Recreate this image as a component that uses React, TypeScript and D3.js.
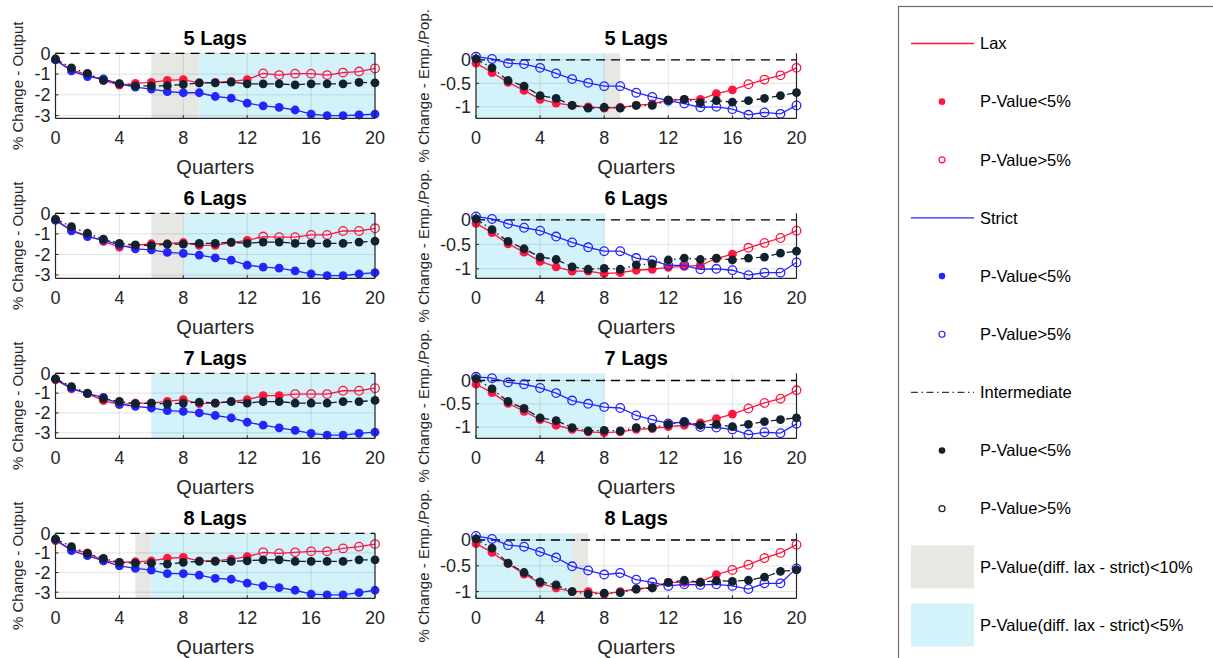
import React from "react";
import * as d3 from "d3";

// ---------- DATA ----------
const quarters = d3.range(0, 21);
const xTicks = [0, 4, 8, 12, 16, 20];
const outputTicks = [0, -1, -2, -3];
const empTicks = [0, -0.5, -1];
const lagTitles = ["5 Lags", "6 Lags", "7 Lags", "8 Lags"];

// Output (left column)
const laxOut5 = [-0.32, -0.8, -1.03, -1.3, -1.53, -1.45, -1.4, -1.3, -1.27, -1.42, -1.4, -1.35, -1.27, -0.97, -1.05, -0.98, -0.98, -1.05, -0.93, -0.88, -0.73];
const strictOut5 = [-0.32, -0.85, -1.12, -1.23, -1.47, -1.63, -1.72, -1.85, -1.9, -1.9, -2.08, -2.16, -2.4, -2.53, -2.6, -2.73, -2.93, -3.0, -3.0, -2.97, -2.93];
const interOut5 = [-0.27, -0.7, -0.97, -1.3, -1.46, -1.57, -1.57, -1.56, -1.5, -1.42, -1.42, -1.39, -1.47, -1.47, -1.47, -1.52, -1.47, -1.47, -1.47, -1.4, -1.42];

const laxOut6 = [-0.33, -0.83, -1.08, -1.37, -1.64, -1.56, -1.48, -1.48, -1.42, -1.56, -1.56, -1.43, -1.32, -1.13, -1.16, -1.16, -1.05, -1.05, -0.86, -0.86, -0.73];
const strictOut6 = [-0.33, -0.85, -1.13, -1.3, -1.54, -1.73, -1.78, -1.9, -1.95, -2.03, -2.17, -2.28, -2.52, -2.62, -2.67, -2.8, -2.95, -3.03, -3.03, -2.95, -2.88];
const interOut6 = [-0.28, -0.65, -0.97, -1.26, -1.46, -1.54, -1.57, -1.5, -1.5, -1.46, -1.46, -1.4, -1.46, -1.4, -1.4, -1.46, -1.46, -1.46, -1.46, -1.4, -1.35];

const laxOut7 = [-0.33, -0.78, -1.03, -1.38, -1.58, -1.5, -1.5, -1.42, -1.33, -1.53, -1.5, -1.42, -1.33, -1.13, -1.13, -1.05, -1.05, -1.05, -0.88, -0.88, -0.75];
const strictOut7 = [-0.28, -0.75, -1.03, -1.22, -1.55, -1.67, -1.75, -1.88, -1.92, -2.0, -2.13, -2.25, -2.47, -2.62, -2.75, -2.88, -3.03, -3.12, -3.12, -3.03, -2.97];
const interOut7 = [-0.28, -0.67, -1.0, -1.28, -1.42, -1.53, -1.5, -1.55, -1.5, -1.45, -1.5, -1.43, -1.5, -1.43, -1.43, -1.5, -1.5, -1.5, -1.43, -1.43, -1.37];

const laxOut8 = [-0.37, -0.83, -1.0, -1.4, -1.48, -1.45, -1.4, -1.27, -1.23, -1.4, -1.4, -1.31, -1.19, -0.97, -1.02, -0.97, -0.92, -0.92, -0.77, -0.68, -0.55];
const strictOut8 = [-0.32, -0.88, -1.14, -1.4, -1.66, -1.79, -1.88, -2.05, -2.05, -2.13, -2.3, -2.34, -2.54, -2.68, -2.77, -2.9, -3.1, -3.14, -3.14, -3.02, -2.9];
const interOut8 = [-0.29, -0.68, -1.02, -1.28, -1.48, -1.52, -1.52, -1.57, -1.48, -1.43, -1.43, -1.43, -1.4, -1.35, -1.35, -1.43, -1.43, -1.43, -1.43, -1.35, -1.35];

// Emp./Pop. (right column)
const laxEmp5 = [-0.07, -0.27, -0.48, -0.65, -0.84, -0.92, -0.97, -1.0, -1.03, -1.01, -0.97, -0.94, -0.86, -0.84, -0.84, -0.72, -0.64, -0.52, -0.42, -0.33, -0.17];
const strictEmp5 = [0.07, 0.02, -0.07, -0.09, -0.17, -0.29, -0.41, -0.49, -0.56, -0.56, -0.7, -0.79, -0.87, -0.93, -1.01, -1.0, -1.05, -1.17, -1.12, -1.15, -0.97];
const interEmp5 = [0.02, -0.17, -0.44, -0.56, -0.76, -0.82, -0.97, -1.03, -1.01, -1.03, -0.97, -0.97, -0.86, -0.84, -0.91, -0.87, -0.9, -0.87, -0.82, -0.76, -0.7];

const laxEmp6 = [-0.07, -0.26, -0.49, -0.66, -0.85, -0.96, -1.05, -1.05, -1.1, -1.08, -1.03, -1.01, -0.97, -0.95, -0.93, -0.79, -0.7, -0.57, -0.47, -0.37, -0.22];
const strictEmp6 = [0.07, 0.02, -0.08, -0.16, -0.22, -0.34, -0.46, -0.56, -0.64, -0.64, -0.78, -0.83, -0.93, -0.93, -1.01, -1.0, -1.03, -1.13, -1.08, -1.08, -0.87];
const interEmp6 = [0.02, -0.2, -0.44, -0.59, -0.76, -0.81, -0.96, -1.01, -0.99, -1.01, -0.92, -0.9, -0.82, -0.78, -0.81, -0.78, -0.82, -0.78, -0.76, -0.68, -0.64];

const laxEmp7 = [-0.08, -0.26, -0.49, -0.66, -0.84, -0.96, -1.05, -1.1, -1.12, -1.1, -1.05, -1.03, -0.99, -0.96, -0.91, -0.82, -0.72, -0.6, -0.48, -0.39, -0.21];
const strictEmp7 = [0.08, 0.05, -0.04, -0.08, -0.16, -0.27, -0.43, -0.5, -0.57, -0.59, -0.75, -0.84, -0.92, -0.89, -1.0, -1.01, -1.05, -1.16, -1.11, -1.13, -0.93];
const interEmp7 = [0.04, -0.18, -0.45, -0.6, -0.8, -0.86, -1.01, -1.08, -1.07, -1.08, -1.01, -1.01, -0.94, -0.89, -0.96, -0.94, -0.99, -0.94, -0.88, -0.84, -0.8];

const laxEmp8 = [-0.07, -0.24, -0.46, -0.66, -0.84, -0.93, -1.0, -1.0, -1.05, -1.0, -0.95, -0.92, -0.82, -0.82, -0.81, -0.67, -0.58, -0.48, -0.35, -0.25, -0.09];
const strictEmp8 = [0.08, 0.02, -0.1, -0.13, -0.23, -0.34, -0.51, -0.59, -0.67, -0.64, -0.77, -0.82, -0.89, -0.86, -0.87, -0.86, -0.89, -0.95, -0.84, -0.84, -0.55];
const interEmp8 = [0.02, -0.16, -0.45, -0.63, -0.81, -0.87, -1.0, -1.05, -1.03, -1.02, -0.95, -0.93, -0.82, -0.78, -0.82, -0.79, -0.8, -0.78, -0.72, -0.61, -0.58];

// first quarter whose estimate has P-Value>5% (open marker from there on)
const laxOutOpenFrom = [13, 13, 15, 13];
const laxEmpOpenFrom = [17, 17, 17, 16];
const strictOutOpenFrom = [21, 21, 21, 21];
const strictEmpOpenFrom = [0, 0, 0, 0];
const interOpenFrom = [21, 21, 21, 21];

// shaded quarter ranges: P-Value(diff)<10% (grey) and <5% (cyan)
const greyOut = [[6, 9], [6, 8], null, [5, 6]];
const cyanOut = [[9, 20], [8, 20], [6, 20], [6, 20]];
const greyEmp = [[8, 9], null, null, [6, 7]];
const cyanEmp = [[0, 8], [0, 8], [0, 8], [0, 6]];

// y-axis limits
const outDomains = [[-3.13, 0], [-3.16, 0], [-3.28, 0], [-3.31, 0]];
const empDomains = [[-1.245, 0.14], [-1.195, 0.136], [-1.24, 0.155], [-1.13, 0.13]];

const legendLabels = ["Lax", "P-Value<5%", "P-Value>5%", "Strict", "P-Value<5%", "P-Value>5%", "Intermediate", "P-Value<5%", "P-Value>5%", "P-Value(diff. lax - strict)<10%", "P-Value(diff. lax - strict)<5%"];

// ---------- STYLE ----------
const RED = "#ff1740";
const BLUE = "#2424ff";
const DARK = "#11222e";
const GREY_FILL = "#e6e8e3";
const CYAN_FILL = "#d3f2fa";
const TXT = "#262626";
const FONT = "'Liberation Sans', Arial, Helvetica, sans-serif";
const DASHDOT = "7,3.5,1.5,3.5";

type PanelProps = {
  left: number; width: number; top: number; height: number;
  domain: number[]; yTicks: number[]; title: string;
  lax: number[]; strict: number[]; inter: number[];
  laxOpen: number; strictOpen: number; interOpen: number;
  grey: number[] | null; cyan: number[] | null;
};

function Series({ data, color, openFrom, x, y, dash }: any) {
  const line = d3.line<number>().x((_, i) => x(quarters[i])).y((d) => y(d));
  return (
    <g>
      <path d={line(data) || ""} fill="none" stroke={color} strokeWidth={1.3} strokeDasharray={dash} />
      {data.map((d: number, i: number) =>
        i >= openFrom ? (
          <circle key={i} cx={x(quarters[i])} cy={y(d)} r={4.3} fill="none" stroke={color} strokeWidth={1.3} />
        ) : (
          <circle key={i} cx={x(quarters[i])} cy={y(d)} r={4.4} fill={color} />
        )
      )}
    </g>
  );
}

function Panel(p: PanelProps) {
  const x = d3.scaleLinear().domain([0, 20]).range([p.left, p.left + p.width]);
  const y = d3.scaleLinear().domain(p.domain).range([p.top + p.height, p.top]);
  const bottom = p.top + p.height;
  const right = p.left + p.width;
  const clipId = `clip-${Math.round(p.left)}-${Math.round(p.top)}`;
  return (
    <g>
      <defs>
        <clipPath id={clipId}>
          <rect x={p.left - 6} y={p.top - 6} width={p.width + 12} height={p.height + 12} />
        </clipPath>
      </defs>
      {p.grey && (
        <rect x={x(p.grey[0])} y={p.top} width={x(p.grey[1]) - x(p.grey[0])} height={p.height} fill={GREY_FILL} />
      )}
      {p.cyan && (
        <rect x={x(p.cyan[0])} y={p.top} width={x(p.cyan[1]) - x(p.cyan[0])} height={p.height} fill={CYAN_FILL} />
      )}
      {xTicks.map((t) => (
        <line key={"gx" + t} x1={x(t)} x2={x(t)} y1={p.top} y2={bottom} stroke={TXT} strokeOpacity={0.13} />
      ))}
      {p.yTicks.map((t) => (
        <line key={"gy" + t} x1={p.left} x2={right} y1={y(t)} y2={y(t)} stroke={TXT} strokeOpacity={0.13} />
      ))}
      <line x1={p.left} x2={right} y1={y(0)} y2={y(0)} stroke="#000" strokeWidth={1.3} strokeDasharray="9,6" />
      <g clipPath={`url(#${clipId})`}>
        <Series data={p.lax} color={RED} openFrom={p.laxOpen} x={x} y={y} />
        <Series data={p.strict} color={BLUE} openFrom={p.strictOpen} x={x} y={y} />
        <Series data={p.inter} color={DARK} openFrom={p.interOpen} x={x} y={y} dash={DASHDOT} />
      </g>
      <line x1={p.left} x2={right} y1={bottom} y2={bottom} stroke={TXT} strokeWidth={1.2} />
      <line x1={p.left} x2={p.left} y1={p.top} y2={bottom} stroke={TXT} strokeWidth={1.2} />
      <line x1={right} x2={right} y1={p.top} y2={bottom} stroke={TXT} strokeWidth={1.2} />
      {xTicks.map((t) => (
        <g key={"xt" + t}>
          <line x1={x(t)} x2={x(t)} y1={bottom} y2={bottom - 3} stroke={TXT} />
          <text x={x(t)} y={bottom + 26} textAnchor="middle" fontSize={18} fill={TXT} fontFamily={FONT}>
            {String(t)}
          </text>
        </g>
      ))}
      {p.yTicks.map((t) => (
        <g key={"yt" + t}>
          <line x1={p.left} x2={p.left + 3} y1={y(t)} y2={y(t)} stroke={TXT} />
          <text x={p.left - 5} y={y(t)} dy="0.35em" textAnchor="end" fontSize={18} fill={TXT} fontFamily={FONT}>
            {String(t)}
          </text>
        </g>
      ))}
      <text x={(p.left + right) / 2} y={p.top - 8} textAnchor="middle" fontSize={20} fontWeight="bold" fill="#000" fontFamily={FONT}>
        {p.title}
      </text>
      <text x={(p.left + right) / 2} y={bottom + 56} textAnchor="middle" fontSize={20} fill={TXT} fontFamily={FONT}>
        Quarters
      </text>
    </g>
  );
}

function YLabel({ x, yc, text }: { x: number; yc: number; text: string }) {
  return (
    <text transform={`translate(${x},${yc}) rotate(-90)`} textAnchor="middle" dy="0.35em" fontSize={15} fill={TXT} fontFamily={FONT}>
      {text}
    </text>
  );
}

function Legend() {
  const y0 = 43.5;
  const step = 58.15;
  const colors = [RED, RED, RED, BLUE, BLUE, BLUE, DARK, DARK, DARK];
  const sym = (i: number, cy: number) => {
    if (i === 9) return <rect x={911} y={cy - 21.5} width={63} height={43} fill={GREY_FILL} />;
    if (i === 10) return <rect x={911} y={cy - 21.5} width={63} height={43} fill={CYAN_FILL} />;
    const c = colors[i];
    if (i % 3 === 0)
      return <line x1={911} x2={974} y1={cy} y2={cy} stroke={i === 6 ? "#2b3d4a" : c} strokeWidth={1.3} strokeDasharray={i === 6 ? DASHDOT : undefined} />;
    if (i % 3 === 1) return <circle cx={942} cy={cy} r={3.3} fill={c} />;
    return <circle cx={942} cy={cy} r={3} fill="none" stroke={c} strokeWidth={1.2} />;
  };
  return (
    <g>
      <rect x={898.5} y={6.5} width={400} height={700} fill="#fff" stroke="#6e6e6e" strokeWidth={1.2} />
      {legendLabels.map((label, i) => {
        const cy = y0 + step * i;
        return (
          <g key={i}>
            {sym(i, cy)}
            <text x={980} y={cy} dy="0.35em" fontSize={16.5} fill="#000" fontFamily={FONT}>
              {label}
            </text>
          </g>
        );
      })}
    </g>
  );
}

export default function App() {
  const laxOut = [laxOut5, laxOut6, laxOut7, laxOut8];
  const strictOut = [strictOut5, strictOut6, strictOut7, strictOut8];
  const interOut = [interOut5, interOut6, interOut7, interOut8];
  const laxEmp = [laxEmp5, laxEmp6, laxEmp7, laxEmp8];
  const strictEmp = [strictEmp5, strictEmp6, strictEmp7, strictEmp8];
  const interEmp = [interEmp5, interEmp6, interEmp7, interEmp8];
  const top0 = 53.3;
  const rowStep = 160;
  const ph = 65;
  return (
    <svg width={1213} height={658} style={{ position: "absolute", left: 0, top: 0, background: "#fff" }}>
      <rect width={1213} height={658} fill="#fff" />
      {lagTitles.map((title, i) => (
        <g key={"row" + i}>
          <Panel left={55.5} width={319.5} top={top0 + rowStep * i} height={ph} domain={outDomains[i]} yTicks={outputTicks}
            title={title} lax={laxOut[i]} strict={strictOut[i]} inter={interOut[i]}
            laxOpen={laxOutOpenFrom[i]} strictOpen={strictOutOpenFrom[i]} interOpen={interOpenFrom[i]}
            grey={greyOut[i]} cyan={cyanOut[i]} />
          <Panel left={476} width={320.5} top={top0 + rowStep * i} height={ph} domain={empDomains[i]} yTicks={empTicks}
            title={title} lax={laxEmp[i]} strict={strictEmp[i]} inter={interEmp[i]}
            laxOpen={laxEmpOpenFrom[i]} strictOpen={strictEmpOpenFrom[i]} interOpen={interOpenFrom[i]}
            grey={greyEmp[i]} cyan={cyanEmp[i]} />
          <YLabel x={18} yc={top0 + rowStep * i + ph / 2} text="% Change - Output" />
          <YLabel x={424} yc={top0 + rowStep * i + ph / 2} text="% Change - Emp./Pop." />
        </g>
      ))}
      <Legend />
    </svg>
  );
}
